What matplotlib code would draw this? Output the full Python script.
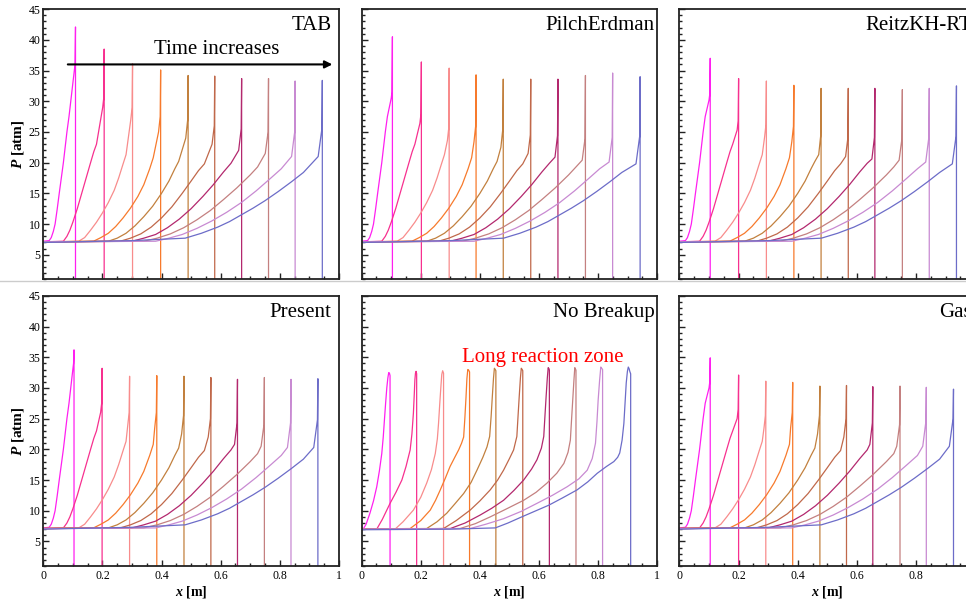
# Pressure profiles behind a spray detonation front for several breakup models
import matplotlib.pyplot as plt
from matplotlib.lines import Line2D
from matplotlib.ticker import MultipleLocator, FuncFormatter

plt.rcParams['font.family'] = ['Liberation Serif', 'DejaVu Serif']
plt.rcParams['mathtext.fontset'] = 'custom'
plt.rcParams['mathtext.rm'] = 'Liberation Serif:bold'
plt.rcParams['mathtext.it'] = 'Liberation Serif:bold:italic'

# one colour per output time (earliest first)
colors = ['#ff1ff0', '#f7308f', '#f88c8c', '#f77a2c', '#c2803e',
          '#c0684a', '#b3286e', '#c48080', '#c88ad2', '#6c6cc8']

# smooth rise of P behind the front (x [m], P [atm]) for the breakup-model runs
rise_x = [
    [0, 0.020, 0.027, 0.034, 0.040, 0.047, 0.054, 0.061, 0.068, 0.074, 0.080, 0.087],
    [0, 0.068, 0.080, 0.090, 0.100, 0.115, 0.130, 0.145, 0.160, 0.171, 0.180],
    [0, 0.120, 0.140, 0.160, 0.180, 0.200, 0.220, 0.240, 0.255, 0.270, 0.280],
    [0, 0.170, 0.195, 0.220, 0.245, 0.270, 0.295, 0.320, 0.340, 0.360, 0.372],
    [0, 0.220, 0.250, 0.280, 0.310, 0.340, 0.370, 0.400, 0.425, 0.445, 0.458],
    [0, 0.260, 0.295, 0.330, 0.365, 0.400, 0.435, 0.470, 0.500, 0.525, 0.545],
    [0, 0.300, 0.340, 0.380, 0.420, 0.460, 0.500, 0.540, 0.575, 0.610, 0.635],
    [0, 0.340, 0.385, 0.430, 0.475, 0.520, 0.565, 0.610, 0.655, 0.700, 0.725],
    [0, 0.380, 0.425, 0.470, 0.520, 0.570, 0.620, 0.670, 0.720, 0.770, 0.805],
    [0, 0.300, 0.480, 0.535, 0.590, 0.630, 0.670, 0.710, 0.750, 0.795, 0.840,
     0.880],
]
rise_p = [
    [7.2, 7.3, 7.8, 8.8, 10.0, 12.4, 15.0, 17.5, 20.0, 22.5, 25.0, 27.5],
    [7.1, 7.2, 8.0, 9.0, 10.3, 12.5, 15.0, 17.5, 20.0, 21.8, 23.0],
    [7.1, 7.2, 7.8, 9.0, 10.3, 11.8, 13.5, 15.5, 17.5, 19.8, 21.3],
    [7.1, 7.2, 7.8, 8.5, 9.6, 11.0, 12.6, 14.5, 16.4, 19.0, 20.8],
    [7.1, 7.2, 7.7, 8.5, 9.7, 11.2, 12.9, 15.0, 17.0, 19.0, 20.2],
    [7.1, 7.2, 7.7, 8.4, 9.5, 11.0, 12.8, 15.0, 17.0, 18.7, 19.8],
    [7.1, 7.2, 7.7, 8.3, 9.4, 10.8, 12.5, 14.5, 16.4, 18.5, 19.9],
    [7.1, 7.2, 7.7, 8.4, 9.4, 10.7, 12.2, 14.0, 15.9, 18.0, 19.3],
    [7.1, 7.2, 7.7, 8.3, 9.3, 10.5, 11.9, 13.5, 15.4, 17.5, 19.0],
    [7.0, 7.3, 7.7, 8.5, 9.5, 10.4, 11.5, 12.6, 13.8, 15.3, 16.9, 18.4],
]

# distance behind the front where the rise turns upward, and the extra
# pressure gained over that last short stretch before the spike
knee_dx = [0.004, 0.005, 0.006, 0.007, 0.008, 0.009, 0.010, 0.011, 0.012, 0.014]
edge_dp = [1.0, 1.5, 2.0, 2.5, 3.0, 3.0, 3.5, 3.5, 4.0, 4.5]

# front position, pressure at the knee and von Neumann spike
tab_front = [0.109, 0.206, 0.302, 0.397, 0.490, 0.580, 0.671, 0.762, 0.852, 0.944]
tab_knee = [35.0, 29.0, 27.0, 25.0, 24.0, 23.0, 22.0, 21.5, 21.0, 21.0]
tab_peak = [42.1, 38.5, 36.1, 35.1, 34.2, 34.1, 33.7, 33.7, 33.3, 33.4]

pilch_front = [0.104, 0.202, 0.296, 0.387, 0.479, 0.572, 0.664, 0.757, 0.849, 0.942]
pilch_knee = [30.5, 26.4, 23.6, 23.4, 22.5, 21.5, 20.9, 20.4, 20.1, 19.8]
pilch_peak = [40.5, 36.4, 35.4, 34.3, 33.6, 33.6, 33.6, 34.2, 34.6, 34.0]

reitz_front = [0.104, 0.200, 0.294, 0.387, 0.479, 0.571, 0.661, 0.754, 0.845, 0.937]
reitz_knee = [30.2, 25.3, 24.2, 23.4, 21.3, 21.0, 20.6, 20.4, 20.1, 19.8]
reitz_peak = [37.0, 33.7, 33.3, 32.6, 32.1, 32.1, 32.1, 31.9, 32.1, 32.5]

present_front = [0.104, 0.199, 0.292, 0.384, 0.476, 0.567, 0.657, 0.748, 0.838, 0.929]
present_knee = [33.0, 26.0, 24.0, 23.5, 22.5, 22.0, 20.8, 20.5, 20.3, 20.3]
present_peak = [36.2, 33.2, 31.9, 32.0, 31.9, 31.7, 31.4, 31.7, 31.4, 31.5]

gas_front = [0.104, 0.200, 0.292, 0.383, 0.475, 0.565, 0.654, 0.746, 0.835, 0.927]
gas_knee = [30.0, 25.0, 23.5, 23.5, 22.5, 22.0, 20.8, 20.5, 20.5, 20.5]
gas_peak = [34.9, 32.1, 31.1, 30.9, 30.3, 30.4, 30.2, 30.3, 30.1, 29.8]

# no-breakup run: full profiles including the rounded peak and the drop
nb_x = [
    [0, 0.005, 0.015, 0.028, 0.040, 0.051, 0.060, 0.068, 0.073, 0.077, 0.081,
     0.085, 0.0885, 0.0915, 0.094, 0.096, 0.096],
    [0, 0.051, 0.070, 0.096, 0.116, 0.136, 0.150, 0.164, 0.170, 0.175, 0.178,
     0.180, 0.182, 0.184, 0.186, 0.186],
    [0, 0.113, 0.140, 0.175, 0.200, 0.220, 0.236, 0.249, 0.256, 0.260, 0.264,
     0.268, 0.271, 0.274, 0.277, 0.277],
    [0, 0.164, 0.200, 0.232, 0.250, 0.266, 0.283, 0.299, 0.315, 0.328, 0.338,
     0.345, 0.349, 0.353, 0.356, 0.359, 0.362, 0.365, 0.365],
    [0, 0.220, 0.255, 0.288, 0.315, 0.345, 0.370, 0.390, 0.410, 0.424, 0.433,
     0.438, 0.442, 0.446, 0.449, 0.452, 0.454, 0.454],
    [0, 0.277, 0.320, 0.367, 0.400, 0.435, 0.460, 0.480, 0.500, 0.514, 0.525,
     0.529, 0.533, 0.537, 0.540, 0.543, 0.545, 0.545],
    [0, 0.300, 0.350, 0.401, 0.440, 0.480, 0.515, 0.548, 0.575, 0.593, 0.608,
     0.616, 0.620, 0.624, 0.628, 0.631, 0.634, 0.635, 0.635],
    [0, 0.333, 0.385, 0.435, 0.490, 0.548, 0.590, 0.627, 0.660, 0.684, 0.698,
     0.706, 0.710, 0.714, 0.718, 0.721, 0.723, 0.725, 0.725],
    [0, 0.367, 0.420, 0.480, 0.540, 0.593, 0.645, 0.695, 0.735, 0.763, 0.780,
     0.791, 0.796, 0.800, 0.805, 0.809, 0.812, 0.815, 0.815],
    [0, 0.300, 0.452, 0.495, 0.537, 0.585, 0.633, 0.680, 0.729, 0.765, 0.797,
     0.828, 0.853, 0.866, 0.873, 0.881, 0.887, 0.891, 0.895, 0.899, 0.902,
     0.905, 0.907, 0.910, 0.910],
]
nb_p = [
    [6.8, 7.0, 7.8, 9.6, 11.6, 13.9, 16.5, 19.3, 22.0, 24.8, 27.5,
     30.0, 31.6, 32.5, 32.4, 32.0, 0.0],
    [7.0, 7.0, 8.6, 11.2, 13.0, 15.0, 17.2, 19.9, 22.5, 25.9, 29.0,
     31.3, 32.4, 32.7, 32.3, 0.0],
    [7.0, 7.0, 8.2, 10.1, 12.2, 14.5, 16.7, 19.3, 21.7, 24.2, 27.3,
     30.2, 32.2, 32.8, 32.4, 0.0],
    [7.0, 7.1, 8.4, 10.1, 11.7, 13.4, 15.3, 17.2, 18.7, 19.9, 21.0,
     22.0, 25.0, 28.5, 31.5, 33.0, 32.9, 32.6, 0.0],
    [7.0, 7.1, 8.2, 9.6, 11.1, 12.8, 14.6, 16.6, 18.7, 20.4, 22.1,
     25.4, 28.6, 31.6, 33.2, 33.0, 32.8, 0.0],
    [7.0, 7.1, 8.4, 10.1, 11.6, 13.4, 15.0, 16.6, 18.5, 19.9, 22.1,
     25.4, 28.6, 31.6, 33.2, 33.0, 32.8, 0.0],
    [7.0, 7.1, 8.0, 9.3, 10.4, 11.7, 13.3, 15.0, 16.8, 18.3, 20.2,
     22.1, 25.4, 28.6, 31.6, 33.3, 33.1, 32.9, 0.0],
    [7.0, 7.1, 7.9, 9.0, 10.3, 11.7, 13.0, 14.5, 16.1, 17.7, 19.5,
     21.5, 24.8, 28.0, 31.2, 33.3, 33.1, 32.9, 0.0],
    [7.0, 7.1, 7.8, 8.7, 9.9, 11.2, 12.5, 13.9, 15.2, 16.6, 18.5,
     21.0, 24.5, 28.0, 31.3, 33.4, 33.2, 33.0, 0.0],
    [6.9, 7.0, 7.2, 8.0, 8.9, 9.9, 10.9, 12.1, 13.4, 14.7, 16.1,
     17.2, 18.0, 18.7, 19.4, 21.5, 24.2, 27.5, 30.8, 32.7, 33.4,
     33.1, 32.7, 32.3, 0.0],
]

x_major = [0, 0.2, 0.4, 0.6, 0.8, 1.0]


def style_axes(ax, show_x, show_y):
    # Tecplot-like frame: inward ticks on left and bottom only
    ax.set_xlim(0, 1)
    ax.set_ylim(1, 45)
    ax.set_xticks(x_major)
    ax.xaxis.set_minor_locator(MultipleLocator(0.05))
    ax.yaxis.set_major_locator(MultipleLocator(5))
    ax.yaxis.set_minor_locator(MultipleLocator(1))
    ax.xaxis.set_major_formatter(FuncFormatter(lambda v, p: '%g' % v))
    ax.tick_params(which='both', direction='in', top=False, right=False,
                   width=1.0, color='#222222', labelsize=8.5)
    ax.tick_params(which='major', length=4.0)
    ax.tick_params(which='minor', length=2.2)
    ax.tick_params(axis='x', pad=3)
    ax.tick_params(axis='y', pad=2)
    if not show_x:
        ax.tick_params(axis='x', labelbottom=False)
    if not show_y:
        ax.tick_params(axis='y', labelleft=False)
    for s in ax.spines.values():
        s.set_linewidth(1.3)
        s.set_color('#222222')


def draw_model(ax, fronts, knees, peaks):
    # smooth rise, a short steep stretch, the spike at the front and the drop
    for i in range(len(fronts)):
        f = fronts[i]
        xs = rise_x[i] + [f - knee_dx[i], f - 0.0015, f, f]
        ps = rise_p[i] + [knees[i], knees[i] + edge_dp[i], peaks[i], 0.0]
        ax.plot(xs, ps, color=colors[i], lw=0.9)


def put_title(ax, name, xr):
    ax.text(xr, 0.94, name, transform=ax.transAxes, ha='right', va='center',
            fontsize=15)


fig = plt.figure(figsize=(9.66, 6.03), dpi=100)

w, h = 0.306, 0.448
lefts = [0.0448, 0.3744, 0.7034]
bottoms = [0.5368, 0.0614]

ax_tab = fig.add_axes([lefts[0], bottoms[0], w, h])
ax_pilch = fig.add_axes([lefts[1], bottoms[0], w, h])
ax_reitz = fig.add_axes([lefts[2], bottoms[0], w, h])
ax_present = fig.add_axes([lefts[0], bottoms[1], w, h])
ax_nb = fig.add_axes([lefts[1], bottoms[1], w, h])
ax_gas = fig.add_axes([lefts[2], bottoms[1], w, h])

draw_model(ax_tab, tab_front, tab_knee, tab_peak)
draw_model(ax_pilch, pilch_front, pilch_knee, pilch_peak)
draw_model(ax_reitz, reitz_front, reitz_knee, reitz_peak)
draw_model(ax_present, present_front, present_knee, present_peak)
draw_model(ax_gas, gas_front, gas_knee, gas_peak)
for i in range(len(nb_x)):
    ax_nb.plot(nb_x[i], nb_p[i], color=colors[i], lw=0.9)

style_axes(ax_tab, False, True)
style_axes(ax_pilch, False, False)
style_axes(ax_reitz, False, False)
style_axes(ax_present, True, True)
style_axes(ax_nb, True, False)
style_axes(ax_gas, True, False)

put_title(ax_tab, 'TAB', 0.975)
put_title(ax_pilch, 'PilchErdman', 0.99)
put_title(ax_reitz, 'ReitzKH-RT', 0.99)
put_title(ax_present, 'Present', 0.975)
put_title(ax_nb, 'No Breakup', 0.99)
put_title(ax_gas, 'Gas', 0.99)

# arrow showing the order of the profiles
ax_tab.annotate('', xy=(0.978, 36.0), xytext=(0.083, 36.0),
                arrowprops=dict(arrowstyle='-|>', color='black', lw=1.5,
                                mutation_scale=11, shrinkA=0, shrinkB=0))
ax_tab.text(0.585, 38.4, 'Time increases', ha='center', va='center', fontsize=15)

ax_nb.text(0.614, 35.0, 'Long reaction zone', ha='center', va='center',
           fontsize=15, color='red')

# axis titles
for ax in (ax_tab, ax_present):
    ax.text(-0.085, 0.5, r'$P$ [atm]', transform=ax.transAxes, rotation=90,
            ha='center', va='center', fontsize=11, fontweight='bold')
for ax in (ax_present, ax_nb, ax_gas):
    ax.text(0.5, -0.096, r'$x$ [m]', transform=ax.transAxes,
            ha='center', va='center', fontsize=10, fontweight='bold')

# thin rule between the two rows
fig.add_artist(Line2D([0, 1], [0.5345, 0.5345], transform=fig.transFigure,
                      color='#cccccc', lw=1.0))

fig.savefig('out.png', dpi=100)
